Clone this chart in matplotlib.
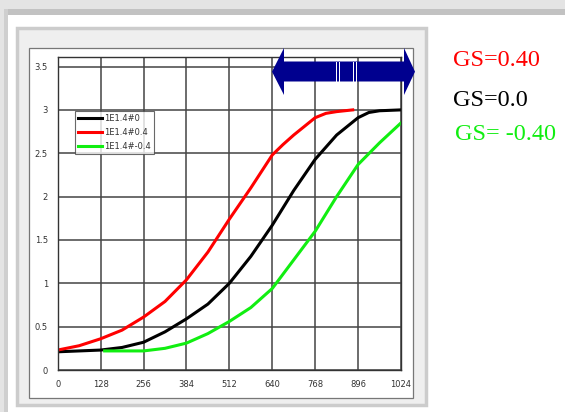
# coding: utf-8
"""
Recreate the GS comparison curve chart (3 curves, 0..1024).
"""
import matplotlib
matplotlib.use("Agg")
import matplotlib.pyplot as plt
from matplotlib.patches import Rectangle, Polygon

# data
red_x = [0, 64, 128, 192, 256, 320, 384, 448, 512, 576, 608, 640, 672, 704, 736, 768, 800, 832, 880]
red_y = [0.23, 0.28, 0.36, 0.46, 0.61, 0.79, 1.04, 1.36, 1.74, 2.10, 2.29, 2.48, 2.60, 2.71, 2.81, 2.91, 2.96, 2.98, 3.00]

black_x = [0, 64, 128, 192, 256, 320, 384, 448, 512, 576, 640, 704, 768, 832, 896, 928, 960, 1024]
black_y = [0.21, 0.22, 0.23, 0.26, 0.32, 0.44, 0.59, 0.76, 1.00, 1.31, 1.67, 2.07, 2.43, 2.71, 2.91, 2.97, 2.99, 3.00]

green_x = [140, 192, 256, 320, 384, 448, 512, 576, 640, 704, 768, 832, 896, 960, 1024]
green_y = [0.22, 0.22, 0.22, 0.25, 0.31, 0.42, 0.56, 0.72, 0.94, 1.27, 1.60, 2.00, 2.37, 2.62, 2.85]

labels = ["1E1.4#0", "1E1.4#0.4", "1E1.4#-0.4"]
x_ticks = [0, 128, 256, 384, 512, 640, 768, 896, 1024]
y_ticks = [0, 0.5, 1, 1.5, 2, 2.5, 3, 3.5]
gs_texts = ["GS=0.40", "GS=0.0", "GS= -0.40"]

W, H = 565, 412
GREEN = "#11ee11"


def px(x, y):
    """pixel (from top-left) -> figure fraction"""
    return (x / W, 1 - y / H)


def add_rect(fig, x0, y0, x1, y1, **kw):
    fx, fy = px(x0, y1)
    r = Rectangle((fx, fy), (x1 - x0) / W, (y1 - y0) / H,
                  transform=fig.transFigure, **kw)
    fig.patches.append(r)


def main():
    fig = plt.figure(figsize=(W / 100, H / 100), dpi=100)
    fig.patch.set_facecolor("white")

    # slide shadow bands
    add_rect(fig, 0, 0, W, 9, facecolor="#e4e4e4", edgecolor="none", zorder=-5)
    add_rect(fig, 8, 9, W, 15, facecolor="#c2c2c2", edgecolor="none", zorder=-5)
    add_rect(fig, 0, 9, 4, H, facecolor="#e4e4e4", edgecolor="none", zorder=-5)
    add_rect(fig, 4, 9, 8, H, facecolor="#cfcfcf", edgecolor="none", zorder=-5)

    # chart frames
    add_rect(fig, 17, 28, 426, 405, facecolor="#efefef", edgecolor="#cccccc",
             linewidth=2.5, zorder=-4)
    add_rect(fig, 29, 48, 413, 398, facecolor="white", edgecolor="#777777",
             linewidth=0.9, zorder=-3)

    l, r, b, t = 57.7, 401, 370, 57
    ax = fig.add_axes([l / W, 1 - b / H, (r - l) / W, (b - t) / H])
    ax.set_facecolor("white")

    ax.plot(black_x, black_y, color="black", lw=2.2, label=labels[0])
    ax.plot(red_x, red_y, color="red", lw=2.2, label=labels[1])
    ax.plot(green_x, green_y, color=GREEN, lw=2.2, label=labels[2])

    ax.set_xlim(0, 1024)
    ax.set_ylim(0, 3.61)
    ax.set_xticks(x_ticks)
    ax.set_xticklabels([str(v) for v in x_ticks])
    ax.set_yticks(y_ticks)
    ax.set_yticklabels(["0", "0.5", "1", "1.5", "2", "2.5", "3", "3.5"])
    ax.tick_params(length=0, labelsize=6, labelcolor="#333333", pad=7)
    ax.grid(True, color="#444444", linewidth=1.1)
    ax.set_axisbelow(True)
    for s in ax.spines.values():
        s.set_color("#333333")
        s.set_linewidth(1.0)

    leg = ax.legend(loc="upper left", bbox_to_anchor=(0.05, 0.826),
                    fontsize=6, frameon=True, fancybox=False,
                    handlelength=2.9, handletextpad=0.3, borderpad=0.35,
                    labelspacing=0.6, borderaxespad=0)
    leg.get_frame().set_edgecolor("#444444")
    leg.get_frame().set_linewidth(0.8)
    for text in leg.get_texts():
        text.set_color("#333333")

    # double arrow in navy on top of the chart
    yc = 71.7
    pts = [(272, yc), (284, 48), (284, 61.5), (404, 61.5), (404, 48),
           (415, yc), (404, 95), (404, 81.5), (284, 81.5), (284, 95)]
    arrow = Polygon([px(x, y) for x, y in pts], closed=True,
                    transform=fig.transFigure, facecolor="#00008f",
                    edgecolor="none", zorder=10)
    fig.patches.append(arrow)
    for xs in [335.5, 339.0, 352.5, 356.0]:
        add_rect(fig, xs, 61.5, xs + 1.2, 81.5, facecolor="white",
                 edgecolor="none", zorder=11)

    # GS annotations
    colors = ["red", "black", GREEN]
    ys = [61, 100, 134.5]
    xs = [453, 453, 455]
    for s, c, y, x in zip(gs_texts, colors, ys, xs):
        fx, fy = px(x, y)
        fig.text(fx, fy, s, color=c, fontsize=17.5, family="Liberation Serif",
                 ha="left", va="center")

    fig.savefig("out.png", dpi=100)


if __name__ == "__main__":
    main()
